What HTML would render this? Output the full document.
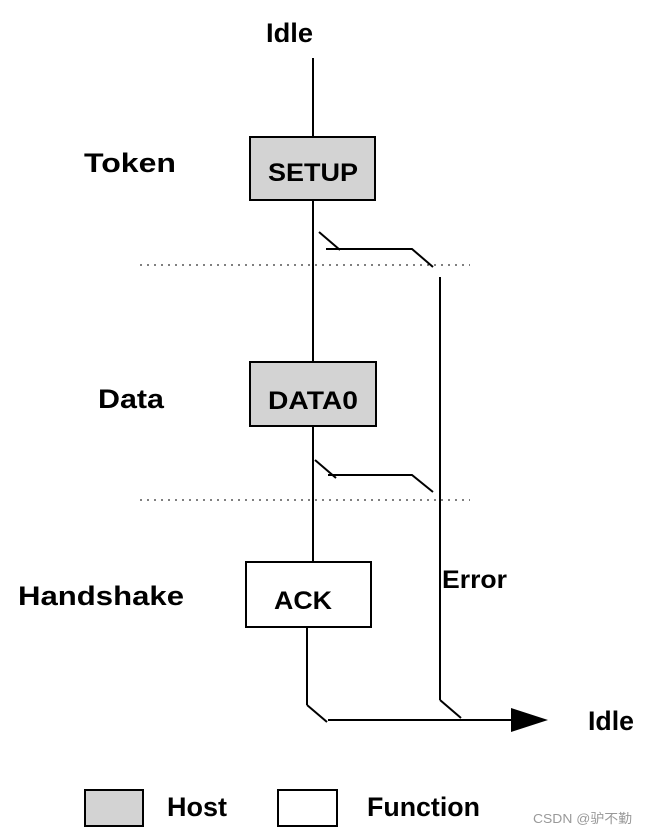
<!DOCTYPE html>
<html><head><style>body{margin:0;background:#fff}svg{display:block}</style></head>
<body>
<svg width="647" height="836" viewBox="0 0 647 836" xmlns="http://www.w3.org/2000/svg" font-family="Liberation Sans, Arial, sans-serif" font-weight="bold">
<g stroke="#000" stroke-width="2" fill="none">
<line x1="313" y1="58" x2="313" y2="137"/>
<line x1="313" y1="200" x2="313" y2="362"/>
<line x1="313" y1="426" x2="313" y2="562"/>
<line x1="319" y1="232" x2="340" y2="250"/>
<polyline points="326,249 412,249 433,267"/>
<line x1="440" y1="277" x2="440" y2="700"/>
<line x1="440" y1="700" x2="461" y2="718"/>
<line x1="315" y1="460" x2="336" y2="478"/>
<polyline points="328,475 412,475 433,492"/>
<line x1="307" y1="623" x2="307" y2="705"/>
<line x1="307" y1="705" x2="327" y2="722"/>
<line x1="328" y1="720" x2="515" y2="720"/>
</g>
<polygon points="511,708 548,720 511,732" fill="#000"/>
<g stroke="#000" stroke-width="1" stroke-dasharray="2,5">
<line x1="140" y1="265" x2="470" y2="265"/>
<line x1="140" y1="500" x2="470" y2="500"/>
</g>
<rect x="250" y="137" width="125" height="63" fill="#d3d3d3" stroke="#000" stroke-width="2"/>
<rect x="250" y="362" width="126" height="64" fill="#d3d3d3" stroke="#000" stroke-width="2"/>
<rect x="246" y="562" width="125" height="65" fill="#fff" stroke="#000" stroke-width="2"/>
<rect x="85" y="790" width="58" height="36" fill="#d3d3d3" stroke="#000" stroke-width="2"/>
<rect x="278" y="790" width="59" height="36" fill="#fff" stroke="#000" stroke-width="2"/>
<g font-size="27" fill="#000" lengthAdjust="spacingAndGlyphs">
<text x="266" y="42" textLength="47" lengthAdjust="spacingAndGlyphs">Idle</text>
<text x="84" y="172" textLength="92" lengthAdjust="spacingAndGlyphs">Token</text>
<text x="98" y="408" textLength="66" lengthAdjust="spacingAndGlyphs">Data</text>
<text x="18" y="605" textLength="166" lengthAdjust="spacingAndGlyphs">Handshake</text>
<text x="588" y="730" textLength="46" lengthAdjust="spacingAndGlyphs">Idle</text>
<text x="167" y="816" textLength="60" lengthAdjust="spacingAndGlyphs">Host</text>
<text x="367" y="816" textLength="113" lengthAdjust="spacingAndGlyphs">Function</text>
</g>
<g font-size="25" fill="#000">
<text x="268" y="181" textLength="90" lengthAdjust="spacingAndGlyphs">SETUP</text>
<text x="268" y="409" textLength="90" lengthAdjust="spacingAndGlyphs">DATA0</text>
<text x="274" y="609" textLength="58" lengthAdjust="spacingAndGlyphs">ACK</text>
<text x="442" y="588" textLength="65" lengthAdjust="spacingAndGlyphs">Error</text>
</g>
<text x="533" y="823" font-size="13" font-weight="normal" fill="#999" textLength="99" lengthAdjust="spacingAndGlyphs" font-family="Liberation Sans, Noto Sans CJK SC, sans-serif">CSDN @驴不勤</text>
</svg>
</body></html>
